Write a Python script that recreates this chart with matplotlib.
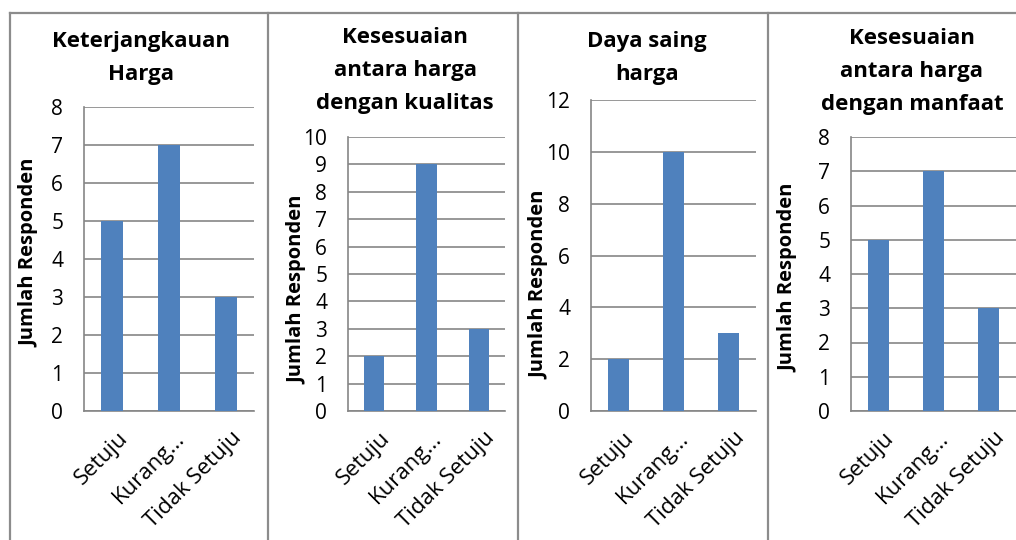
"""Bar charts of respondent answers on pricing, four aspects side by side."""
import matplotlib.pyplot as plt
from matplotlib.lines import Line2D
from matplotlib.transforms import ScaledTranslation

W, H = 1016, 540

categories = ['Setuju', 'Kurang...', 'Tidak Setuju']

titles = [['Keterjangkauan', 'Harga'],
          ['Kesesuaian', 'antara harga', 'dengan kualitas'],
          ['Daya saing', 'harga'],
          ['Kesesuaian', 'antara harga', 'dengan manfaat']]

keterjangkauan = [5, 7, 3]
kesesuaian_kualitas = [2, 9, 3]
daya_saing = [2, 10, 3]
kesesuaian_manfaat = [5, 7, 3]

y_max = [8, 10, 12, 8]
y_step = [1, 1, 2, 1]

series = [keterjangkauan, kesesuaian_kualitas, daya_saing, kesesuaian_manfaat]

# layout in pixels: axes (left, right, top, bottom), title centre x,
# first title baseline, ylabel centre (x, y)
axes_px = [(84, 254, 107, 411), (348, 505, 137, 411),
           (591, 756, 100, 411), (851, 1016, 137, 411)]
title_x = [141, 405, 647, 912]
title_base = [47, 43, 47, 44]
line_gap = 33
ylabel_px = [(29, 253), (297, 290), (539, 285), (788, 278)]
borders_x = [10, 268, 518, 768]

BAR = '#4F81BD'
GRID = '#868686'
FRAME = '#8C8C8C'

plt.rcParams['font.family'] = ['Open Sans', 'DejaVu Sans']

fig = plt.figure(figsize=(W / 100, H / 100), dpi=100)
shift = ScaledTranslation(5 / 100, 0, fig.dpi_scale_trans)

for i, values in enumerate(series):
    l, r, t, b = axes_px[i]
    ax = fig.add_axes([l / W, 1 - b / H, (r - l) / W, (b - t) / H])
    ax.bar(range(len(categories)), values, width=0.39, color=BAR, zorder=3)
    ax.set_xlim(-0.5, len(categories) - 0.5)
    ax.set_ylim(0, y_max[i])
    ax.set_yticks(range(0, y_max[i] + 1, y_step[i]))
    ax.yaxis.grid(True, color=GRID, linewidth=1.2)
    ax.set_axisbelow(True)
    for side in ['top', 'right']:
        ax.spines[side].set_visible(False)
    for side in ['left', 'bottom']:
        ax.spines[side].set_color(GRID)
        ax.spines[side].set_linewidth(1.2)
    ax.tick_params(axis='y', length=0, pad=15, labelsize=15)
    ax.tick_params(axis='x', length=0, pad=12, labelsize=16)
    ax.set_xticks(range(len(categories)))
    ax.set_xticklabels(categories, rotation=45, ha='right',
                       rotation_mode='anchor')
    for lab in ax.get_xticklabels():
        lab.set_transform(lab.get_transform() + shift)

    for k, line in enumerate(titles[i]):
        fig.text(title_x[i] / W, 1 - (title_base[i] + k * line_gap) / H, line,
                 ha='center', va='baseline', fontsize=16, fontweight='bold')
    lx, ly = ylabel_px[i]
    fig.text(lx / W, 1 - ly / H, 'Jumlah Responden', rotation=90,
             ha='center', va='center', fontsize=14.5, fontweight='bold')

# chart frames
fig.add_artist(Line2D([borders_x[0] / W, 1], [1 - 13 / H] * 2,
                      color=FRAME, linewidth=1.6))
for x in borders_x:
    fig.add_artist(Line2D([x / W] * 2, [0, 1 - 13 / H],
                          color=FRAME, linewidth=1.6))

fig.savefig('out.png', dpi=100)
